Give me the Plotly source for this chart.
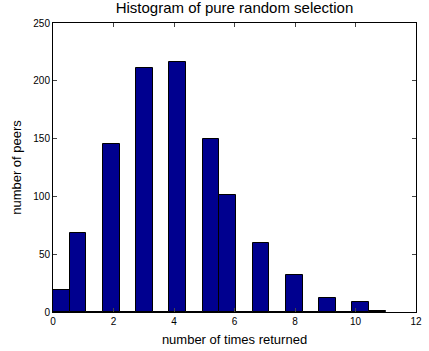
import plotly.graph_objects as go

bin_width = 0.55
bin_centers = [0.275 + bin_width * k for k in range(20)]
counts = [19, 68, 0, 145, 0, 211, 0, 216, 0, 150, 101, 0, 60, 0, 32, 0, 12, 0, 9, 1]
x_ticks = [0, 2, 4, 6, 8, 10, 12]
y_ticks = [0, 50, 100, 150, 200, 250]

fig = go.Figure(go.Bar(
    x=bin_centers, y=counts, width=bin_width,
    marker=dict(color="rgb(0,0,143)", line=dict(color="black", width=1)),
))

font = "Liberation Sans, Arial, Helvetica, sans-serif"
fig.update_layout(
    width=429, height=351,
    margin=dict(l=53, r=7, t=23, b=38),
    paper_bgcolor="white", plot_bgcolor="white",
    showlegend=False,
    font=dict(family=font, size=10, color="black"),
    title=dict(text="Histogram of pure random selection", x=0.5, xref="paper", xanchor="center",
               y=1 - 8 / 351, yanchor="middle", font=dict(size=15, family=font)),
    bargap=0,
)
fig.update_xaxes(range=[0, 12], tickvals=x_ticks, ticks="inside", ticklen=4,
                 showline=True, linecolor="black", linewidth=1, mirror="ticks",
                 showgrid=False, zeroline=False,
                 title=dict(text="number of times returned", font=dict(size=13), standoff=8))
fig.update_yaxes(range=[0, 250], tickvals=y_ticks, ticks="inside", ticklen=4,
                 showline=True, linecolor="black", linewidth=1, mirror="ticks",
                 showgrid=False, zeroline=False,
                 title=dict(text="number of peers", font=dict(size=13), standoff=8))

fig.write_html("out.html")
